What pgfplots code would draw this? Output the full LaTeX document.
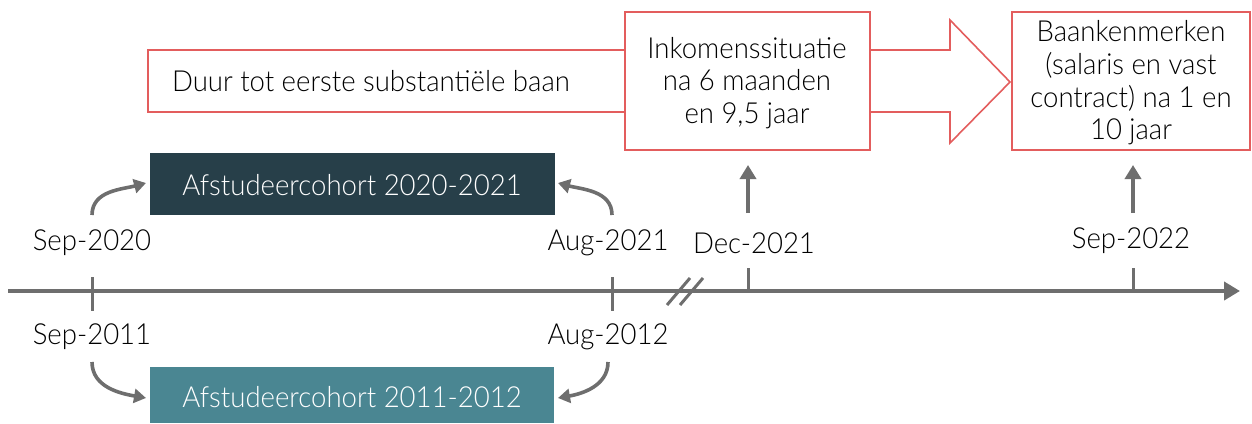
\documentclass[border=0pt]{standalone}
\usepackage{pgfplots}
\pgfplotsset{compat=1.18}
\usepackage{fontspec}
\setmainfont{Lato}[UprightFont=* Light, FakeStretch=0.95]
\usetikzlibrary{arrows.meta}
\definecolor{tl}{HTML}{6E6E6E}
\definecolor{rd}{HTML}{E35D5D}
\definecolor{dk}{HTML}{273F49}
\definecolor{lt}{HTML}{4A8692}
\definecolor{tx}{HTML}{111111}
\begin{document}
\fontsize{14.5}{16.3}\selectfont
\begin{tikzpicture}
\begin{axis}[
  hide axis, scale only axis, width=626pt, height=211.5pt,
  xmin=0, xmax=1252, ymin=0, ymax=423, y dir=reverse, clip=false,
  every node/.style={font=\fontsize{14.5}{16.3}\selectfont, text=tx, inner sep=0pt},
]
% red outline arrow
\addplot[draw=rd, line width=0.8pt, mark=none] coordinates {(148,50)(950,50)(950,20)(1010,82)(950,143)(950,112)(148,112)} -- cycle;
\addplot[draw=rd, fill=white, line width=0.8pt, mark=none] coordinates {(625,12)(870,12)(870,150)(625,150)} -- cycle;
\addplot[draw=rd, fill=white, line width=0.8pt, mark=none] coordinates {(1012,12)(1250,12)(1250,150)(1012,150)} -- cycle;
\node[anchor=west] at (axis cs:162,81) {Duur tot eerste substanti\"ele baan};
\node[align=center] at (axis cs:747,83) {Inkomenssituatie\\na 6 maanden\\en 9,5 jaar};
\node[align=center] at (axis cs:1131,83) {Baankenmerken\\(salaris en vast\\contract) na 1 en\\10 jaar};
% cohort boxes
\addplot[fill=dk, draw=none, mark=none] coordinates {(150,153)(555,153)(555,215)(150,215)} -- cycle;
\addplot[fill=lt, draw=none, mark=none] coordinates {(150,367)(554,367)(554,423)(150,423)} -- cycle;
\node[text=white] at (axis cs:352,185) {Afstudeercohort 2020-2021};
\node[text=white] at (axis cs:352,397) {Afstudeercohort 2011-2012};
% timeline
\addplot[draw=tl, line width=2pt, mark=none, -{Triangle[length=8pt,width=9pt]}] coordinates {(8,291)(1240,291)};
\addplot[draw=tl, line width=1.5pt, mark=none] coordinates {(92,277)(92,311)};
\addplot[draw=tl, line width=1.5pt, mark=none] coordinates {(612,277)(612,311)};
\addplot[draw=tl, line width=1.5pt, mark=none] coordinates {(748,268)(748,291)};
\addplot[draw=tl, line width=1.5pt, mark=none] coordinates {(1133,268)(1133,291)};
\addplot[draw=tl, line width=1.5pt, mark=none] coordinates {(667,305)(690,278)};
\addplot[draw=tl, line width=1.5pt, mark=none] coordinates {(680,305)(703,278)};
% vertical arrows
\addplot[draw=tl, line width=2pt, mark=none, -{Triangle[length=7pt,width=8pt]}] coordinates {(748,213)(748,165)};
\addplot[draw=tl, line width=2pt, mark=none, -{Triangle[length=7pt,width=8pt]}] coordinates {(1133,213)(1133,165)};
% labels
\node at (axis cs:92,243) {Sep-2020};
\node at (axis cs:608,243) {Aug-2021};
\node at (axis cs:754,243) {Dec-2021};
\node at (axis cs:1131,241) {Sep-2022};
\node at (axis cs:92,337) {Sep-2011};
\node at (axis cs:608,337) {Aug-2012};
% curved arrows
\draw[tl, line width=1.8pt, -{Triangle[length=6pt,width=7pt]}] (axis cs:92,215) to[out=90,in=195] (axis cs:146,183);
\draw[tl, line width=1.8pt, -{Triangle[length=6pt,width=7pt]}] (axis cs:612,215) to[out=90,in=-15] (axis cs:558,183);
\draw[tl, line width=1.8pt, -{Triangle[length=6pt,width=7pt]}] (axis cs:92,362) to[out=-90,in=170] (axis cs:146,398);
\draw[tl, line width=1.8pt, -{Triangle[length=6pt,width=7pt]}] (axis cs:608,362) to[out=-90,in=10] (axis cs:558,398);
\end{axis}
\pgfresetboundingbox
\path[use as bounding box] (0,0) rectangle (626pt,211.5pt);
\end{tikzpicture}
\end{document}
